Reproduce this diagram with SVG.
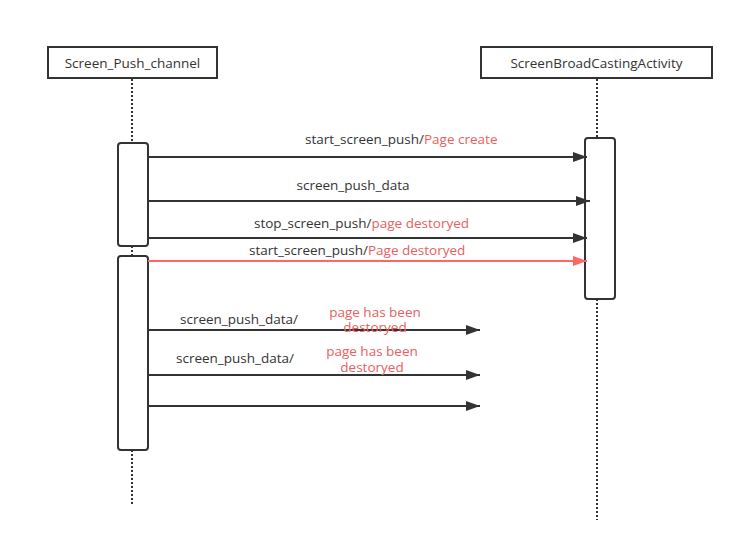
<svg xmlns="http://www.w3.org/2000/svg" width="744" height="552" viewBox="0 0 744 552">
<style>
.box{fill:#fff;stroke:#333;stroke-width:2}
.act{fill:#fff;stroke:#333;stroke-width:2}
.life{stroke:#333;stroke-width:2;stroke-dasharray:2 2;fill:none}
.msg{stroke:#333;stroke-width:2;fill:none}
.red{stroke:#ff6666}
text{font-family:"Open Sans","Noto Sans",sans-serif;font-size:13.5px;fill:#333}
.r{fill:#e86060}
</style>
<defs>
<marker id="ah" markerWidth="14" markerHeight="10" refX="14" refY="5" orient="auto" markerUnits="userSpaceOnUse"><path d="M0,0 L14,5 L0,10 Z" fill="#333"/></marker>
<marker id="ahr" markerWidth="14" markerHeight="10" refX="14" refY="5" orient="auto" markerUnits="userSpaceOnUse"><path d="M0,0 L14,5 L0,10 Z" fill="#ff6666"/></marker>
</defs>
<rect width="744" height="552" fill="#fff"/>
<g id="lifelines">
<line class="life" x1="132" y1="79" x2="132" y2="143"/>
<line class="life" x1="132" y1="246" x2="132" y2="256"/>
<line class="life" x1="132" y1="450" x2="132" y2="504"/>
<line class="life" x1="597" y1="79" x2="597" y2="138"/>
<line class="life" x1="597" y1="299" x2="597" y2="520"/>
</g>
<g id="node-screen-push-channel">
<rect class="box" x="48" y="47" width="169" height="31"/>
<text x="132.5" y="67.5" text-anchor="middle">Screen_Push_channel</text>
</g>
<g id="node-screen-broadcasting-activity">
<rect class="box" x="481" y="47" width="231" height="31"/>
<text x="596.5" y="67.5" text-anchor="middle">ScreenBroadCastingActivity</text>
</g>
<g id="act-1"><rect class="act" x="118" y="143" width="30" height="103" rx="3"/></g>
<g id="act-2"><rect class="act" x="118" y="256" width="30" height="194" rx="3"/></g>
<g id="act-3"><rect class="act" x="585" y="138" width="30" height="161" rx="3"/></g>
<g id="connectors">
<line class="msg" x1="148" y1="157" x2="587" y2="157" marker-end="url(#ah)"/>
<line class="msg" x1="148" y1="201" x2="590" y2="201" marker-end="url(#ah)"/>
<line class="msg" x1="148" y1="238" x2="587" y2="238" marker-end="url(#ah)"/>
<line class="msg red" x1="148" y1="261" x2="587" y2="261" marker-end="url(#ahr)"/>
<line class="msg" x1="148" y1="330" x2="480" y2="330" marker-end="url(#ah)"/>
<line class="msg" x1="148" y1="375" x2="480" y2="375" marker-end="url(#ah)"/>
<line class="msg" x1="148" y1="406" x2="480" y2="406" marker-end="url(#ah)"/>
</g>
<g id="labels">
<text x="305" y="144">start_screen_push/<tspan class="r">Page create</tspan></text>
<text x="353" y="190" text-anchor="middle">screen_push_data</text>
<text x="254" y="228">stop_screen_push/<tspan class="r">page destoryed</tspan></text>
<text x="249" y="255">start_screen_push/<tspan class="r">Page destoryed</tspan></text>
<text x="180" y="324">screen_push_data/</text>
<text class="r" text-anchor="middle"><tspan x="375" y="317">page has been</tspan><tspan x="375" y="332">destoryed</tspan></text>
<text x="176" y="363">screen_push_data/</text>
<text class="r" text-anchor="middle"><tspan x="372" y="356">page has been</tspan><tspan x="372" y="372">destoryed</tspan></text>
</g>
</svg>
